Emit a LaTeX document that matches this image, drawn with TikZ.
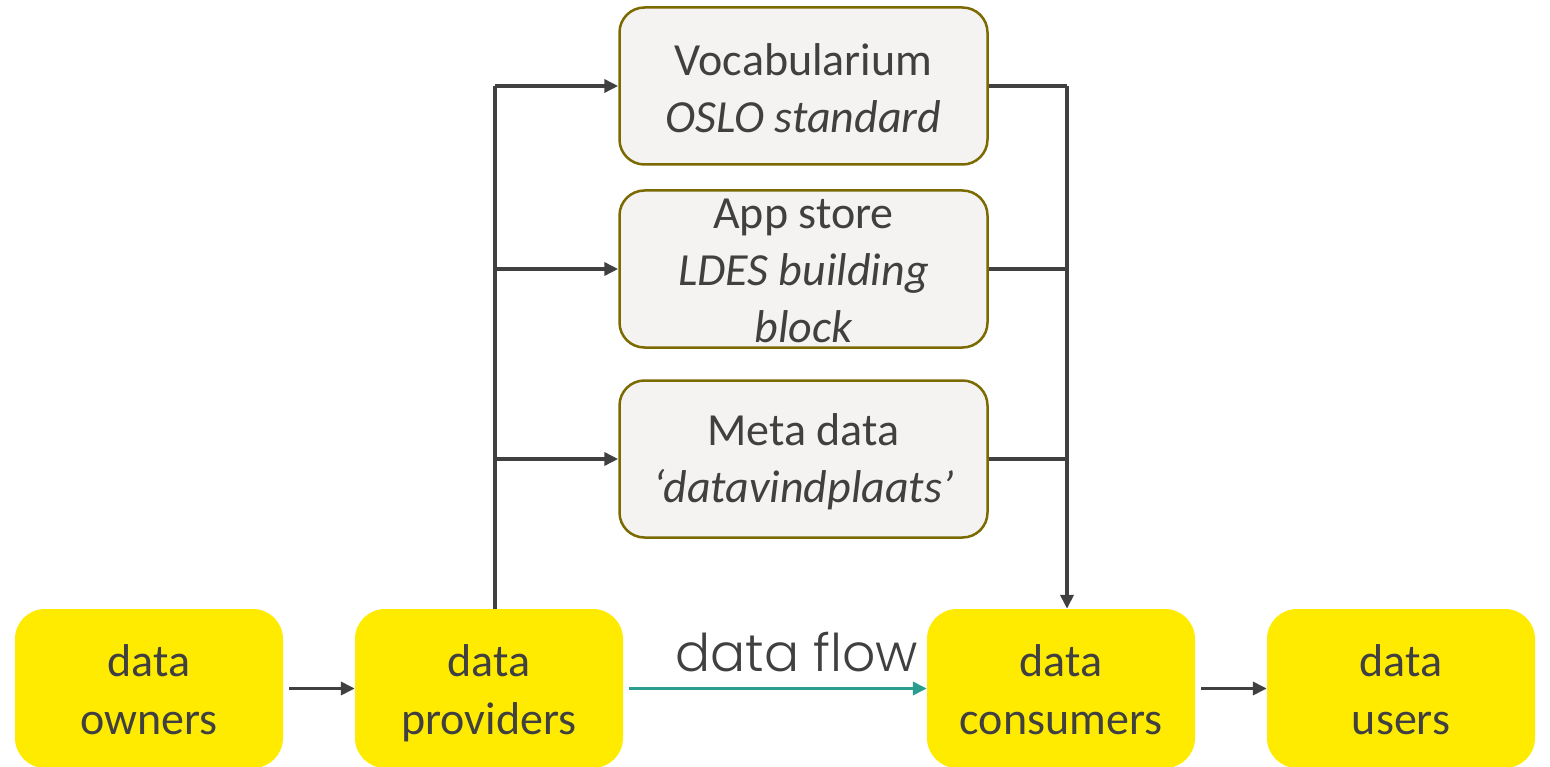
\documentclass[tikz,border=0pt]{standalone}
\usepackage{fontspec}
\setmainfont{Carlito}
\newfontfamily\flowfont{Poppins Light}
\usetikzlibrary{arrows.meta,calc}
\definecolor{txt}{HTML}{404040}
\definecolor{yel}{HTML}{FFEB00}
\definecolor{graybox}{HTML}{F4F3F1}
\definecolor{olive}{HTML}{7A6A00}
\definecolor{teal}{HTML}{2A9D8F}
\definecolor{line}{HTML}{404040}
\tikzset{
  actor/.style={rectangle, rounded corners=30pt, fill=yel, minimum width=268pt, minimum height=159pt, inner sep=0pt},
  actortext/.style={text=txt, align=center, font=\fontsize{46}{58}\selectfont},
  infobox/.style={rectangle, rounded corners=25pt, fill=graybox, draw=olive, line width=2.5pt, minimum width=368pt, minimum height=157pt, inner sep=0pt},
  boxtext/.style={text=txt, align=center, font=\fontsize{46}{57}\selectfont},
  conn/.style={draw=line, line width=3.5pt, -{Triangle[length=14pt,width=13pt]}},
  plain/.style={draw=line, line width=3.5pt},
  flow/.style={draw=teal, line width=3.5pt, -{Triangle[length=14pt,width=13pt]}}
}
\begin{document}
\begin{tikzpicture}[x=1pt,y=-1pt]
\useasboundingbox (0,0) rectangle (1550,767);
\node[actor] (own) at (149,688.5) {};
\node[actor] (prov) at (489,688.5) {};
\node[actor] (cons) at (1061,688.5) {};
\node[actor] (usr) at (1401,688.5) {};
\node[actortext] (ownt) at ($(own)+(0,10)$) {data\\owners\strut};
\node[actortext] (provt) at ($(prov)+(0,10)$) {data\\providers\strut};
\node[actortext] (const) at ($(cons)+(0,10)$) {data\\consumers\strut};
\node[actortext] (usrt) at ($(usr)+(0,10)$) {data\\users\strut};
\node[infobox] (voc) at (803.5,86) {};
\node[boxtext] (voct) at (803.5,88) {Vocabularium\\\itshape OSLO standard};
\node[infobox] (app) at (803.5,269) {};
\node[boxtext] (appt) at (803.5,271) {App store\\\itshape LDES building\\\itshape block};
\node[infobox] (meta) at (803.5,459) {};
\node[boxtext] (metat) at (803.5,462) {Meta data\\\itshape `datavindplaats'};
\coordinate (lt) at ($(prov.north)+(6,0)$);
\coordinate (rt) at ($(cons.north)+(6,0)$);
\draw[plain] (lt) -- (lt |- voc.west);
\draw[conn] (lt |- voc.west) -- (voc.west);
\draw[conn] (lt |- app.west) -- (app.west);
\draw[conn] (lt |- meta.west) -- (meta.west);
\draw[plain] (voc.east) -- (rt |- voc.east);
\draw[plain] (app.east) -- (rt |- app.east);
\draw[plain] (meta.east) -- (rt |- meta.east);
\draw[conn] (rt |- voc.east) -- (rt);
\draw[conn, shorten <=6pt] (own.east) -- (prov.west);
\draw[conn, shorten <=6pt] (cons.east) -- (usr.west);
\draw[flow, shorten <=6pt] (prov.east) -- (cons.west);
\node[text=txt, font=\flowfont\fontsize{52}{60}\selectfont] (flowlbl) at (797,652) {data flow};
\end{tikzpicture}
\end{document}
